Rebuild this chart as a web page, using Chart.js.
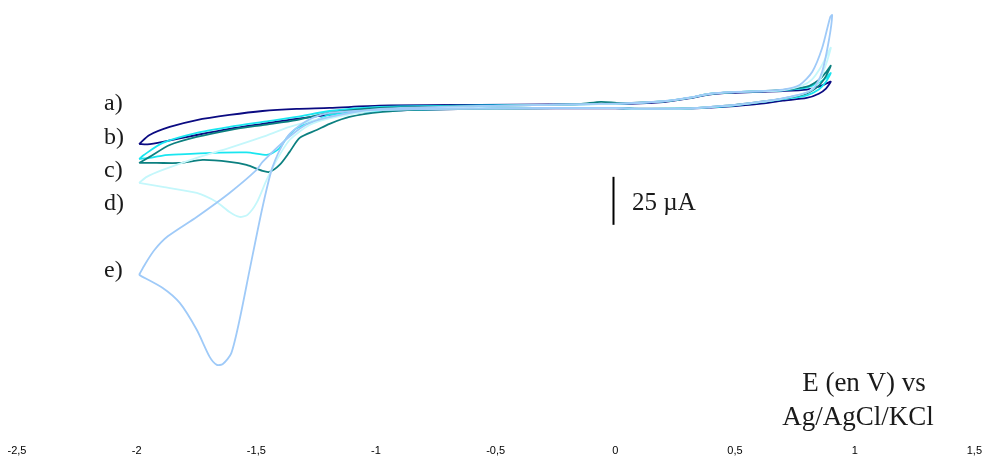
<!DOCTYPE html>
<html lang="en">

<head>
    <meta charset="UTF-8">
    <title>Voltammograms</title>
    <script src="https://cdn.jsdelivr.net/npm/chart.js"></script>
    <style>
        html, body {
            margin: 0;
            padding: 0;
            background: #ffffff;
        }

        .chart-box {
            position: relative;
            width: 988px;
            height: 465px;
        }
    </style>
</head>

<body>
    <div class="chart-box">
        <canvas id="cvChart"></canvas>
    </div>

    <script>
        // x axis ticks (V)
        const xTicks = [-2.5, -2, -1.5, -1, -0.5, 0, 0.5, 1, 1.5];

        // curve a) - forward sweep then back to -2 V
        const potA = [-1.99, -1.946, -1.862, -1.749, -1.612, -1.474, -1.332, -1.194, -0.985, -0.568, 0.0, 0.2, 0.3, 0.4, 0.5, 0.6, 0.7, 0.8, 0.85, 0.88, 0.9,
            0.88, 0.85, 0.8, 0.7, 0.6, 0.5, 0.4, 0.3, 0.1, 0.0, -0.5, -0.985, -1.194, -1.332, -1.474, -1.612, -1.749, -1.891, -1.955, -1.99];
        const curA = [-21.4, -16.7, -12.5, -8.9, -6.25, -4.2, -3.1, -2.6, -1.4, -1.0, -0.5, 0.5, 2.2, 4.5, 5.3, 5.8, 6.2, 7.0, 8.5, 10.0, 11.1,
            7.5, 4.8, 2.6, 1.2, -0.5, -1.6, -2.4, -3.0, -3.1, -2.8, -3.0, -4.2, -6.25, -8.3, -10.9, -13.5, -16.7, -20.3, -21.6, -21.4];

        // curve b)
        const potB = [-1.99, -1.97, -1.891, -1.749, -1.612, -1.474, -1.332, -1.194, -0.985, -0.568, 0.0, 0.2, 0.3, 0.4, 0.5, 0.6, 0.7, 0.8, 0.85, 0.88, 0.9,
            0.88, 0.85, 0.8, 0.7, 0.6, 0.5, 0.4, 0.3, 0.1, 0.0, -0.5, -0.985, -1.194, -1.248, -1.332, -1.374, -1.403, -1.432, -1.457, -1.541, -1.683, -1.820, -1.891, -1.946, -1.99];
        const curB = [-29.2, -27.1, -20.8, -15.6, -12.5, -9.9, -7.3, -4.2, -2.1, -1.3, -0.5, 0.8, 2.5, 4.8, 5.6, 6.1, 6.6, 8.0, 10.5, 13.0, 15.6,
            11.0, 7.0, 4.0, 2.0, 0.3, -1.2, -2.2, -2.9, -3.1, -2.7, -2.8, -4.2, -6.25, -8.9, -13.2, -18.4, -23.6, -26.0, -27.1, -25.8, -26.0, -26.8, -27.4, -28.6, -29.2];

        // curve c)
        const potC = [-1.99, -1.946, -1.862, -1.749, -1.612, -1.474, -1.332, -1.194, -0.985, -0.568, -0.15, -0.06, 0.02, 0.2, 0.3, 0.4, 0.5, 0.6, 0.7, 0.8, 0.85, 0.88, 0.9,
            0.88, 0.85, 0.8, 0.7, 0.6, 0.5, 0.4, 0.3, 0.1, 0.0, -0.5, -0.831, -0.973, -1.111, -1.194, -1.248, -1.319, -1.361, -1.403, -1.445, -1.474, -1.541, -1.612, -1.724, -1.820, -1.916, -1.99];
        const curC = [-31.25, -28.1, -21.9, -17.7, -14.1, -11.5, -8.9, -5.2, -2.6, -1.6, -0.6, 0.6, 0.0, 0.8, 2.5, 4.8, 5.6, 6.2, 6.8, 8.5, 12.0, 16.0, 19.4,
            14.0, 9.0, 5.0, 2.3, 0.5, -1.0, -2.0, -2.8, -3.0, -2.6, -3.0, -3.6, -4.7, -7.3, -10.9, -14.1, -18.2, -25.5, -32.3, -35.9, -35.4, -32.3, -30.7, -29.7, -31.25, -31.25, -31.25];

        // curve d)
        const potD = [-1.99, -1.958, -1.891, -1.749, -1.612, -1.474, -1.361, -1.194, -0.985, -0.568, 0.0, 0.2, 0.3, 0.4, 0.5, 0.6, 0.7, 0.78, 0.82, 0.86, 0.9,
            0.88, 0.85, 0.8, 0.7, 0.6, 0.5, 0.4, 0.3, 0.1, 0.0, -0.5, -0.985, -1.194, -1.278, -1.361, -1.415, -1.457, -1.499, -1.537, -1.570, -1.612, -1.666, -1.749, -1.891, -1.99];
        const curD = [-41.7, -38.5, -34.9, -28.6, -23.4, -17.7, -12.5, -7.3, -3.6, -1.6, -0.5, 0.8, 2.5, 4.8, 5.6, 6.1, 6.6, 9.0, 12.0, 19.0, 28.8,
            20.0, 11.0, 5.5, 2.3, 0.4, -1.1, -2.1, -2.9, -3.1, -2.7, -2.9, -3.8, -8.0, -11.5, -19.3, -29.7, -40.1, -52.1, -58.3, -59.4, -56.8, -51.6, -46.9, -43.75, -41.7];

        // curve e)
        const potE = [-1.99, -1.965, -1.925, -1.87, -1.749, -1.612, -1.499, -1.474, -1.361, -1.278, -1.152, -0.985, -0.568, 0.0, 0.2, 0.3, 0.4, 0.5, 0.6, 0.7, 0.77, 0.823, 0.864, 0.898, 0.906,
            0.894, 0.864, 0.823, 0.73, 0.64, 0.5, 0.4, 0.3, 0.1, 0.0, -0.5, -0.985, -1.194, -1.265, -1.332, -1.374, -1.432, -1.474, -1.528, -1.570, -1.605, -1.64, -1.665, -1.695, -1.749, -1.820, -1.891, -1.99];
        const curE = [-89.6, -84.0, -76.5, -69.5, -59.4, -46.9, -34.9, -30.7, -17.5, -10.4, -6.25, -3.1, -1.6, -0.4, 0.9, 2.6, 4.9, 5.7, 6.2, 7.0, 9.4, 16.3, 28.6, 44.8, 45.8,
            33.9, 16.3, 6.8, 3.2, 1.2, -1.0, -2.0, -2.8, -3.0, -2.6, -2.8, -3.6, -5.2, -7.8, -13.0, -18.2, -33.3, -54.2, -87.0, -113, -130.5, -136.0, -136.5, -132.3, -118.2, -104.2, -96.4, -89.6];

        const curveNames = ['a)', 'b)', 'c)', 'd)', 'e)'];
        const curveColors = ['#0b0b82', '#19e6f0', '#0c8080', '#c4f7fb', '#9fcaf8'];

        function toPoints(pot, cur) {
            return pot.map((v, i) => ({ x: v, y: cur[i] }));
        }

        const allPot = [potA, potB, potC, potD, potE];
        const allCur = [curA, curB, curC, curD, curE];

        const datasets = allPot.map((pot, i) => ({
            label: curveNames[i],
            data: toPoints(pot, allCur[i]),
            borderColor: curveColors[i],
            borderWidth: 1.8,
            showLine: true,
            fill: false,
            pointRadius: 0,
            tension: 0.25,
            order: i === 4 ? 0 : 5 - i
        }));

        // labels, scale bar and axis text drawn on top
        const annotations = {
            id: 'annotations',
            afterDraw(chart) {
                const c = chart.ctx;
                const xs = chart.scales.x;
                const ys = chart.scales.y;
                c.save();
                c.fillStyle = '#1a1a1a';
                c.textBaseline = 'middle';
                c.textAlign = 'left';
                c.font = '24px "Liberation Serif", serif';
                const labelY = [104, 138, 171, 204, 271];
                curveNames.forEach((t, i) => c.fillText(t, 104, labelY[i]));

                // 25 µA scale bar
                const bx = Math.round(xs.getPixelForValue(-0.01)) + 0.5;
                c.strokeStyle = '#000';
                c.lineWidth = 2;
                c.beginPath();
                c.moveTo(bx, ys.getPixelForValue(-38.5));
                c.lineTo(bx, ys.getPixelForValue(-63.5));
                c.stroke();
                c.font = '25px "Liberation Serif", serif';
                c.fillText('25 \u00b5A', 632, 203);

                c.textAlign = 'center';
                c.font = '27px "Liberation Serif", serif';
                c.fillText('E (en V) vs', 864, 384);
                c.fillText('Ag/AgCl/KCl', 858, 418);
                c.restore();
            }
        };

        const ctx = document.getElementById('cvChart').getContext('2d');
        new Chart(ctx, {
            type: 'scatter',
            data: { datasets: datasets },
            options: {
                responsive: true,
                maintainAspectRatio: false,
                animation: false,
                layout: {
                    padding: { left: 17, right: 13, top: 7, bottom: 1 }
                },
                plugins: {
                    legend: { display: false },
                    tooltip: { enabled: false }
                },
                scales: {
                    x: {
                        type: 'linear',
                        min: xTicks[0],
                        max: xTicks[xTicks.length - 1],
                        afterBuildTicks: (axis) => {
                            axis.ticks = xTicks.map(v => ({ value: v }));
                        },
                        grid: { display: false, drawTicks: false },
                        border: { display: false },
                        ticks: {
                            color: '#000',
                            padding: 6,
                            maxRotation: 0,
                            font: { family: '"Liberation Sans", Arial, sans-serif', size: 11 },
                            callback: (v) => String(v).replace('.', ',')
                        }
                    },
                    y: {
                        type: 'linear',
                        display: false,
                        min: -175,
                        max: 50
                    }
                }
            },
            plugins: [annotations]
        });
    </script>
</body>

</html>
